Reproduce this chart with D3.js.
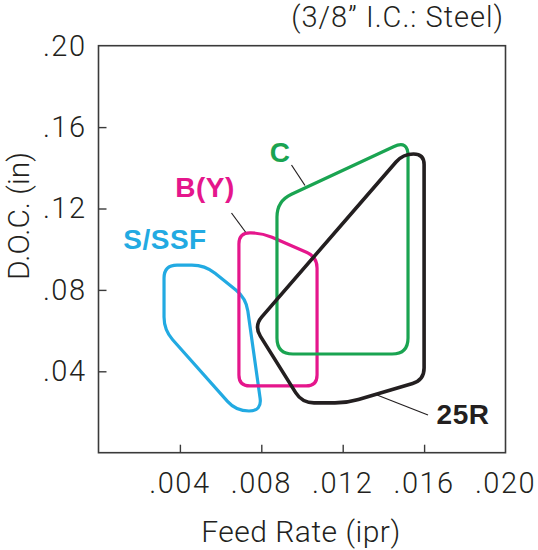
<!DOCTYPE html>
<html>
<head>
<meta charset="utf-8">
<script src="https://cdn.jsdelivr.net/npm/d3@7"></script>
<style>
  body { margin: 0; background: #fff; }
  .tickText { font-family: Roboto, "Liberation Sans", sans-serif; font-weight: 300; fill: #231f20; }
  .zoneLabel { font-family: "Liberation Sans", Arial, sans-serif; font-weight: bold; }
</style>
</head>
<body>
<div class="chart"></div>
<script>
// grade regions, points are [feed rate, depth of cut]
var gradeNames = ["S/SSF", "B(Y)", "C", "25R"];
var ssfZone = [[.00322, .0922], [.00523, .0922], [.00725, .0760], [.00803, .0205], [.00676, .0205], [.00322, .0603]];
var byZone = [[.00690, .1080], [.00803, .1080], [.01074, .0962], [.01074, .0328], [.00690, .0328]];
var cZone = [[.00877, .1237], [.01521, .1537], [.01521, .0485], [.00877, .0485]];
var r25Zone = [[.00764, .0623], [.01496, .1468], [.01600, .1468], [.01600, .0357], [.01221, .0245], [.01000, .0245]];

var xTicks = [.004, .008, .012, .016, .020];
var yTicks = [.04, .08, .12, .16, .20];

var svgWidth = 538;
var svgHeight = 550;
var margin = {top: 45.7, left: 98.5};
var width = 407;
var height = 407;

var svg = d3.select(".chart")
    .append("svg")
    .attr("width", svgWidth)
    .attr("height", svgHeight);

var chartGroup = svg.append("g")
    .attr("transform", `translate(${margin.left}, ${margin.top})`);

var xScale = d3.scaleLinear().domain([0, .020]).range([0, width]);
var yScale = d3.scaleLinear().domain([0, .20]).range([height, 0]);

var fmt = function(d) { return d3.format(".3f")(d).replace(/^0/, ""); };
var fmtY = function(d) { return d3.format(".2f")(d).replace(/^0/, ""); };

// frame
chartGroup.append("rect")
    .attr("width", width)
    .attr("height", height)
    .attr("fill", "none")
    .attr("stroke", "#3a3a3a")
    .attr("stroke-width", 1.6);

// axes with inward ticks, labels drawn separately
var xAxis = d3.axisBottom(xScale).tickValues(xTicks.slice(0, 4)).tickSize(-8).tickFormat("");
var yAxis = d3.axisLeft(yScale).tickValues(yTicks.slice(0, 4)).tickSize(-8).tickFormat("");

var gx = chartGroup.append("g").attr("transform", `translate(0,${height})`).call(xAxis);
var gy = chartGroup.append("g").call(yAxis);
[gx, gy].forEach(function(g) {
    g.select(".domain").remove();
    g.selectAll("line").attr("stroke", "#3a3a3a").attr("stroke-width", 1.4);
});

chartGroup.selectAll(".xLab")
    .data(xTicks)
    .enter()
    .append("text")
    .attr("class", "tickText")
    .attr("x", d => xScale(d))
    .attr("y", height + 40)
    .attr("text-anchor", "middle")
    .style("font-size", "29px")
    .style("letter-spacing", "1.5px")
    .text(fmt);

chartGroup.selectAll(".yLab")
    .data(yTicks)
    .enter()
    .append("text")
    .attr("class", "tickText")
    .attr("x", -12)
    .attr("y", d => yScale(d) + 10)
    .attr("text-anchor", "end")
    .style("font-size", "29px")
    .style("letter-spacing", "1.5px")
    .text(fmtY);

// axis titles
svg.append("text")
    .attr("class", "tickText")
    .attr("x", 301)
    .attr("y", 541.5)
    .attr("text-anchor", "middle")
    .style("font-size", "30px")
    .style("letter-spacing", "0.5px")
    .text("Feed Rate (ipr)");

svg.append("text")
    .attr("class", "tickText")
    .attr("transform", "translate(28.5,216) rotate(-90)")
    .attr("text-anchor", "middle")
    .style("font-size", "30px")
    .text("D.O.C. (in)");

svg.append("text")
    .attr("class", "tickText")
    .attr("x", 504)
    .attr("y", 27)
    .attr("text-anchor", "end")
    .style("font-size", "29px")
    .style("letter-spacing", "1px")
    .text("(3/8\u201D I.C.: Steel)");

// closed polygon with rounded corners
function roundedPath(pts, r) {
    var p = pts.map(d => [xScale(d[0]), yScale(d[1])]);
    var n = p.length;
    var parts = [];
    for (var i = 0; i < n; i++) {
        var v = p[i], a = p[(i - 1 + n) % n], b = p[(i + 1) % n];
        var la = Math.hypot(a[0] - v[0], a[1] - v[1]);
        var lb = Math.hypot(b[0] - v[0], b[1] - v[1]);
        var rr = Math.min(r, la / 2, lb / 2);
        var s = [v[0] + (a[0] - v[0]) * rr / la, v[1] + (a[1] - v[1]) * rr / la];
        var e = [v[0] + (b[0] - v[0]) * rr / lb, v[1] + (b[1] - v[1]) * rr / lb];
        parts.push({s: s, v: v, e: e});
    }
    var d = `M${parts[0].s}`;
    parts.forEach(function(c, i) {
        if (i > 0) d += `L${c.s}`;
        d += `Q${c.v} ${c.e}`;
    });
    return d + "Z";
}

var zones = [
    {name: gradeNames[0], pts: ssfZone, color: "#22aae2", r: 13, w: 3.2},
    {name: gradeNames[1], pts: byZone, color: "#e5168c", r: 11, w: 3.2},
    {name: gradeNames[2], pts: cZone, color: "#1aa451", r: 16, w: 3.2},
    {name: gradeNames[3], pts: r25Zone, color: "#231f20", r: 12, w: 3.6}
];

chartGroup.selectAll(".zone")
    .data(zones)
    .enter()
    .append("path")
    .attr("d", d => roundedPath(d.pts, d.r))
    .attr("fill", "none")
    .attr("stroke", d => d.color)
    .attr("stroke-width", d => d.w)
    .attr("stroke-linejoin", "round");

// labels and leader lines (pixel layout)
var labels = [
    {text: "S/SSF", x: 165, y: 248.5, color: "#22aae2"},
    {text: "B(Y)", x: 205, y: 197, color: "#e5168c"},
    {text: "C", x: 280, y: 162, color: "#1aa451"},
    {text: "25R", x: 463, y: 423.5, color: "#231f20"}
];
var leaders = [[231.5, 213, 245.5, 232], [291.5, 165, 305, 185.5], [377, 395, 428, 415]];

svg.selectAll(".zoneLabel")
    .data(labels)
    .enter()
    .append("text")
    .attr("class", "zoneLabel")
    .attr("x", d => d.x)
    .attr("y", d => d.y)
    .attr("text-anchor", "middle")
    .attr("fill", d => d.color)
    .style("font-size", "28px")
    .style("letter-spacing", "0.5px")
    .text(d => d.text);

svg.selectAll(".leader")
    .data(leaders)
    .enter()
    .append("line")
    .attr("x1", d => d[0]).attr("y1", d => d[1])
    .attr("x2", d => d[2]).attr("y2", d => d[3])
    .attr("stroke", "#231f20")
    .attr("stroke-width", 1.2);
</script>
</body>
</html>
